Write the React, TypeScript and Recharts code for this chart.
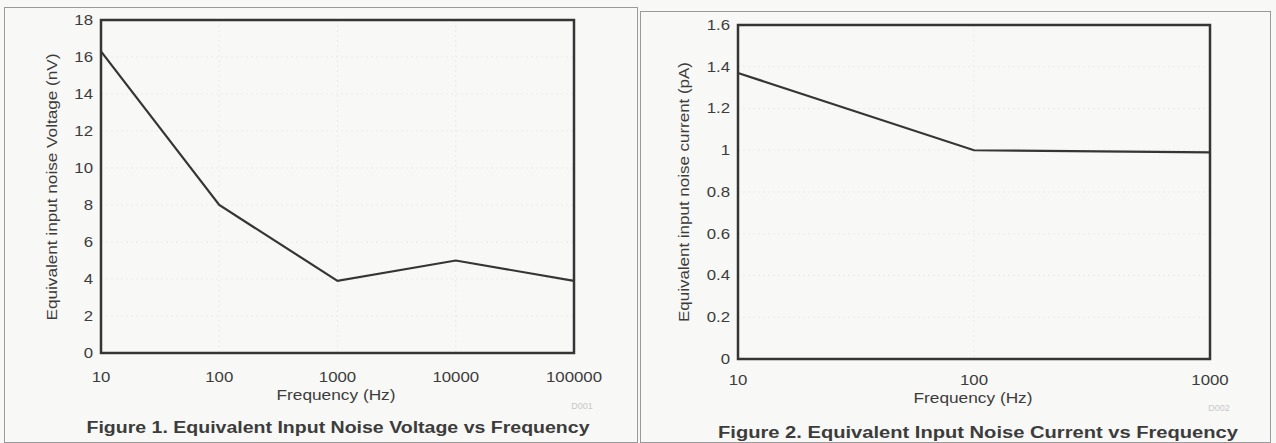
import React from "react";
import {
  LineChart,
  Line,
  XAxis,
  YAxis,
  CartesianGrid,
  ReferenceArea,
} from "recharts";

// Figure 1 — noise voltage vs frequency (log x)
const voltageFreqs = [10, 100, 1000, 10000, 100000];
const voltageNoise = [16.3, 8, 3.9, 5, 3.9];
const voltageTicksX = [10, 100, 1000, 10000, 100000];
const voltageTicksY = [0, 2, 4, 6, 8, 10, 12, 14, 16, 18];

// Figure 2 — noise current vs frequency (log x)
const currentFreqs = [10, 100, 1000];
const currentNoise = [1.37, 1.0, 0.99];
const currentTicksX = [10, 100, 1000];
const currentTicksY = [0, 0.2, 0.4, 0.6, 0.8, 1, 1.2, 1.4, 1.6];

const FONT = "'Liberation Sans', Arial, sans-serif";
const INK = "#353535";
const TXT = "#3c3c3c";

const voltageData = voltageFreqs.map((f, i) => ({ f, v: voltageNoise[i] }));
const currentData = currentFreqs.map((f, i) => ({ f, v: currentNoise[i] }));

function XTick(props: any) {
  const { x, y, payload, off } = props;
  return (
    <g transform={`translate(${x},${y + off}) scale(1.2,1)`}>
      <text textAnchor="middle" dominantBaseline="central" fontSize={14} fontFamily={FONT} fill={TXT}>
        {payload.value}
      </text>
    </g>
  );
}

function YTick(props: any) {
  const { x, y, payload, gap } = props;
  return (
    <g transform={`translate(${x - gap},${y}) scale(1.2,1)`}>
      <text textAnchor="end" dominantBaseline="central" fontSize={14} fontFamily={FONT} fill={TXT}>
        {payload.value}
      </text>
    </g>
  );
}

type Bottom = {
  axisX: number;
  axisY: number;
  title: string;
  titleX: number;
  titleY: number;
  titleLen: number;
  code: string;
  codeX: number;
  codeY: number;
};

function bottomLabel(b: Bottom) {
  return () => (
    <g>
      <text
        x={b.axisX}
        y={b.axisY}
        textAnchor="middle"
        dominantBaseline="central"
        fontSize={14}
        fontFamily={FONT}
        fill={TXT}
        textLength={119}
        lengthAdjust="spacingAndGlyphs"
      >
        Frequency (Hz)
      </text>
      <text
        x={b.codeX}
        y={b.codeY}
        textAnchor="middle"
        dominantBaseline="central"
        fontSize={9}
        fontFamily={FONT}
        fill="#c8c8c8"
      >
        {b.code}
      </text>
      <text
        x={b.titleX}
        y={b.titleY}
        textAnchor="middle"
        dominantBaseline="central"
        fontSize={16}
        fontWeight="bold"
        fontFamily={FONT}
        fill={TXT}
        textLength={b.titleLen}
        lengthAdjust="spacingAndGlyphs"
      >
        {b.title}
      </text>
    </g>
  );
}

function sideLabel(text: string, x: number, y: number, len: number) {
  return () => (
    <text
      x={x}
      y={y}
      transform={`rotate(-90, ${x}, ${y})`}
      textAnchor="middle"
      dominantBaseline="central"
      fontSize={15}
      fontFamily={FONT}
      fill={TXT}
      textLength={len}
      lengthAdjust="spacingAndGlyphs"
    >
      {text}
    </text>
  );
}

export default function App() {
  return (
    <div
      style={{
        position: "absolute",
        left: 0,
        top: 0,
        width: 1276,
        height: 443,
        background: "#f8f8f6",
        overflow: "hidden",
      }}
    >
      <div style={{ position: "absolute", left: 4, top: 7, width: 632, height: 434, border: "1px solid #9a9a9a" }} />
      <div style={{ position: "absolute", left: 640, top: 11, width: 629, height: 430, border: "1px solid #9a9a9a" }} />

      <div style={{ position: "absolute", left: 0, top: 0 }}>
        <LineChart width={640} height={443} data={voltageData} margin={{ top: 20, right: 66, bottom: 0, left: 0 }}>
          <CartesianGrid stroke="#ebebeb" strokeDasharray="2 3" />
          <XAxis
            dataKey="f"
            type="number"
            scale="log"
            domain={[10, 100000]}
            ticks={voltageTicksX}
            interval={0}
            height={90}
            axisLine={false}
            tickLine={false}
            tickSize={0}
            tickMargin={0}
            tick={(p: any) => <XTick {...p} off={24} />}
            label={bottomLabel({
              axisX: 336,
              axisY: 395,
              title: "Figure 1. Equivalent Input Noise Voltage vs Frequency",
              titleX: 338,
              titleY: 427,
              titleLen: 503,
              code: "D001",
              codeX: 582,
              codeY: 406,
            })}
          />
          <YAxis
            type="number"
            domain={[0, 18]}
            ticks={voltageTicksY}
            interval={0}
            width={101}
            axisLine={false}
            tickLine={false}
            tickSize={0}
            tickMargin={0}
            tick={(p: any) => <YTick {...p} gap={8} />}
            label={sideLabel("Equivalent input noise Voltage (nV)", 51, 187, 267)}
          />
          <ReferenceArea
            x1={10}
            x2={100000}
            y1={0}
            y2={18}
            fill="none"
            stroke={INK}
            strokeWidth={2.5}
            ifOverflow="visible"
          />
          <Line
            dataKey="v"
            stroke={INK}
            strokeWidth={2.2}
            dot={false}
            isAnimationActive={false}
          />
        </LineChart>
      </div>

      <div style={{ position: "absolute", left: 640, top: 0 }}>
        <LineChart width={636} height={443} data={currentData} margin={{ top: 25, right: 66, bottom: 0, left: 0 }}>
          <CartesianGrid stroke="#ebebeb" strokeDasharray="2 3" />
          <XAxis
            dataKey="f"
            type="number"
            scale="log"
            domain={[10, 1000]}
            ticks={currentTicksX}
            interval={0}
            height={84}
            axisLine={false}
            tickLine={false}
            tickSize={0}
            tickMargin={0}
            tick={(p: any) => <XTick {...p} off={21} />}
            label={bottomLabel({
              axisX: 333,
              axisY: 398,
              title: "Figure 2. Equivalent Input Noise Current vs Frequency",
              titleX: 338,
              titleY: 432,
              titleLen: 520,
              code: "D002",
              codeX: 579,
              codeY: 408,
            })}
          />
          <YAxis
            type="number"
            domain={[0, 1.6]}
            ticks={currentTicksY}
            interval={0}
            width={98}
            axisLine={false}
            tickLine={false}
            tickSize={0}
            tickMargin={0}
            tick={(p: any) => <YTick {...p} gap={8} />}
            label={sideLabel("Equivalent input noise current (pA)", 43, 192, 260)}
          />
          <ReferenceArea
            x1={10}
            x2={1000}
            y1={0}
            y2={1.6}
            fill="none"
            stroke={INK}
            strokeWidth={2.5}
            ifOverflow="visible"
          />
          <Line
            dataKey="v"
            stroke={INK}
            strokeWidth={2.2}
            dot={false}
            isAnimationActive={false}
          />
        </LineChart>
      </div>
    </div>
  );
}
